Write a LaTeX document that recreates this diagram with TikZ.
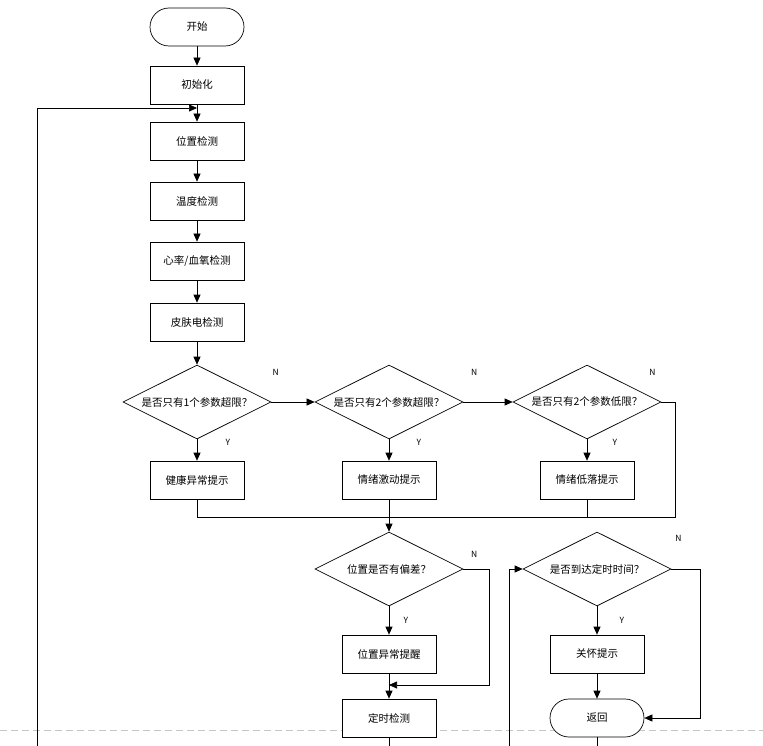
\documentclass[tikz,border=0pt]{standalone}
\usepackage{fontspec}
\setmainfont{Noto Sans CJK SC}
\usetikzlibrary{shapes.geometric, arrows.meta}

\begin{document}
\begin{tikzpicture}[x=1pt, y=-1pt,
    box/.style={rectangle, draw, fill=white, minimum width=94pt,
      minimum height=38pt, inner sep=0pt,
      font=\fontsize{10.5}{12}\selectfont},
    term/.style={box, rounded corners=19pt},
    cond/.style={diamond, draw, fill=white, aspect=2, minimum width=148pt,
      minimum height=74pt, inner sep=0pt,
      font=\fontsize{10.5}{12}\selectfont},
    yn/.style={font=\fontsize{8.5}{10}\selectfont}]
    \useasboundingbox (0,0) rectangle (763,746);
    \draw [gray!45, dashed, dash pattern=on 7pt off 4pt] (0,730) -- (763,730);

    \begin{scope}[line width=0.7pt]
      \node [term] (0) at (197,27) {开始};
      \node [box] (1) at (197,85) {初始化};
      \node [box] (2) at (197,141) {位置检测};
      \node [box] (3) at (197,201) {温度检测};
      \node [box] (4) at (197,261) {心率/血氧检测};
      \node [box] (5) at (197,322) {皮肤电检测};
      \node [cond] (6) at (197,402) {是否只有1个参数超限？};
      \node [cond] (7) at (389,402) {是否只有2个参数超限？};
      \node [cond] (8) at (587,402) {是否只有2个参数低限？};
      \node [box] (9) at (197,480) {健康异常提示};
      \node [box] (10) at (389,480) {情绪激动提示};
      \node [box] (11) at (587,480) {情绪低落提示};
      \node [cond] (12) at (389,569) {位置是否有偏差？};
      \node [cond] (13) at (597,569) {是否到达定时时间？};
      \node [box] (14) at (389,654) {位置异常提醒};
      \node [box] (15) at (389,718) {定时检测};
      \node [box] (16) at (597,654) {关怀提示};
      \node [term] (17) at (597,718) {返回};
    \end{scope}

    \coordinate (a) at (37,746);
    \coordinate (b) at (197,108);
    \coordinate (m) at (389,517);
    \coordinate (c) at (675,517);
    \coordinate (k) at (489,685);
    \coordinate (j) at (389,685);
    \coordinate (e) at (509,746);
    \coordinate (f) at (700,718);
    \coordinate (g) at (389,746);
    \coordinate (h) at (597,746);

    \begin{scope}[->, >={Triangle[length=8pt, width=7pt]}, line width=0.7pt]
      \draw (0) to (1);
      \draw (1) to (2);
      \draw (a) |- (b);
      \draw (2) to (3);
      \draw (3) to (4);
      \draw (4) to (5);
      \draw (5) to (6);
      \draw (6) to node [yn, pos=0.1, above=23pt] {N} (7);
      \draw (7) to node [yn, pos=0.22, above=23pt] {N} (8);
      \draw (6) to node [yn, pos=0.15, right=25pt] {Y} (9);
      \draw (7) to node [yn, pos=0.15, right=24pt] {Y} (10);
      \draw (8) to node [yn, pos=0.15, right=22pt] {Y} (11);
      \draw [-] (8.east) -| node [yn, pos=0, above=23pt, xshift=-9pt] {N} (c) -- (m);
      \draw [-] (9) |- (m);
      \draw [-] (11) |- (m);
      \draw (10) to (12);
      \draw (12) to node [yn, midway, right=11pt] {Y} (14);
      \draw (12.east) -| node [yn, pos=0.21, above=8pt] {N} (k) -- (j);
      \draw (14) to (15);
      \draw [-] (15) to (g);
      \draw (e) |- (13.west);
      \draw (13) to node [yn, midway, right=19pt] {Y} (16);
      \draw (13.east) -| node [yn, pos=0.125, above=24pt] {N} (f) -- (17);
      \draw (16) to (17);
      \draw [-] (17) to (h);
    \end{scope}
  \end{tikzpicture}
\end{document}
